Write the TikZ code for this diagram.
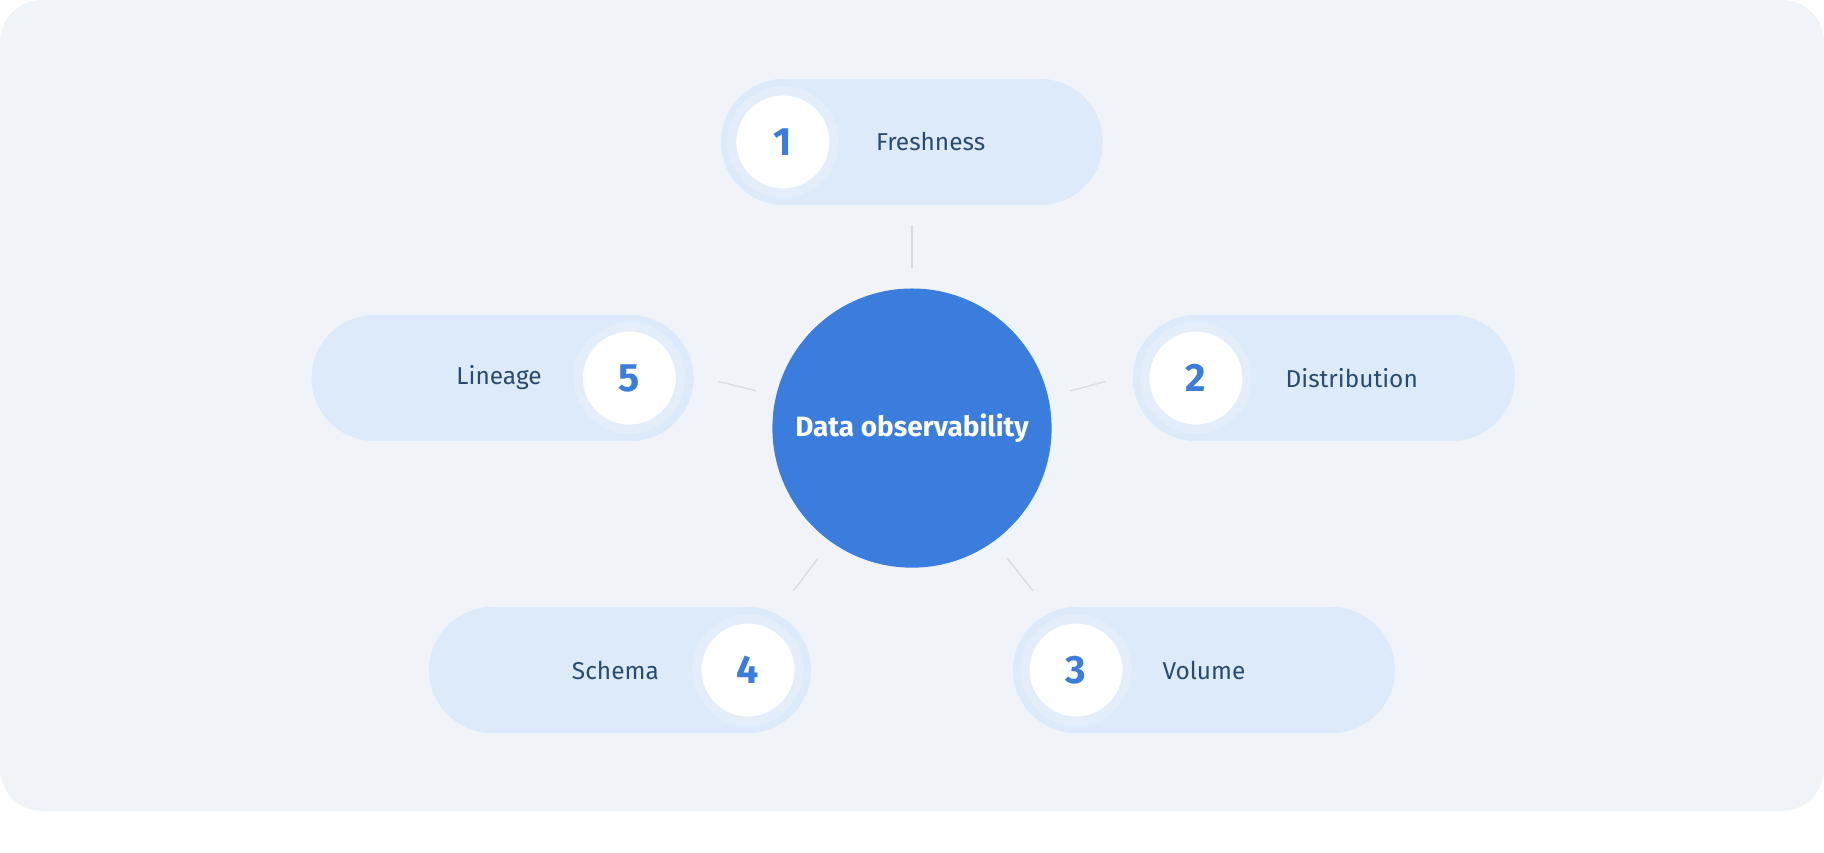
\documentclass[tikz,border=0pt]{standalone}
\usepackage{fontspec}
\setmainfont{Fira Sans}
\begin{document}
\begin{tikzpicture}[x=1pt,y=-1pt,
  pill/.style={draw=none,left color=#1,right color=#1,fill=pillc,rounded corners=54pt,minimum width=328pt,minimum height=108pt},
  pill/.default=pillc,
  num/.style={circle,fill=white,draw=ringc,line width=8pt,minimum size=88pt,inner sep=0pt,text=numc,font=\fontsize{34}{40}\selectfont\bfseries},
  lab/.style={text=labc,font=\fontsize{21}{25}\selectfont},
  conn/.style={draw=linec,line width=1pt}]
\definecolor{bgc}{HTML}{F0F4F8}
\definecolor{pillc}{HTML}{DCEAF9}
\definecolor{ringc}{HTML}{E4EEFA}
\definecolor{numc}{HTML}{3B7DDD}
\definecolor{labc}{HTML}{2A4A6E}
\definecolor{linec}{HTML}{D3DAE2}
\definecolor{hubc}{HTML}{3B7DDD}
\useasboundingbox (0,0) rectangle (1568,733);
\fill[white] (0,0) rectangle (1568,733);
\fill[bgc,rounded corners=36pt] (0,0) rectangle (1568,697);
% pills
\node[pill,fill=pillc] (p1) at (784,122) {};
\node[pill,fill=pillc] (p2) at (1138,325) {};
\node[pill,fill=pillc] (p3) at (1035,576) {};
\node[pill,fill=pillc] (p4) at (533,576) {};
\node[pill,fill=pillc] (p5) at (432,325) {};
\node[num] (n1) at (673,122) {1};
\node[num] (n2) at (1028,325) {2};
\node[num] (n3) at (925,576) {3};
\node[num] (n4) at (643,576) {4};
\node[num] (n5) at (541,325) {5};
\node[lab] (l1) at (800,122) {Freshness};
\node[lab] (l2) at (1162,325) {Distribution};
\node[lab] (l3) at (1035,576) {Volume};
\node[lab] (l4) at (529,576) {Schema};
\node[lab] (l5) at (429,325) {Lineage};
% hub
\node[circle,fill=hubc,minimum size=240pt,inner sep=0pt,text=white,font=\fontsize{24}{28}\selectfont\bfseries] (hub) at (784,368) {Data observability};
% connectors
\coordinate (a1) at (784,193); \coordinate (b1) at (784,230);
\coordinate (a2) at (950,328); \coordinate (b2) at (920,336);
\coordinate (a3) at (888,508); \coordinate (b3) at (866,480);
\coordinate (a4) at (682,508); \coordinate (b4) at (703,480);
\coordinate (a5) at (618,328); \coordinate (b5) at (650,336);
\foreach \i in {1,...,5}{\draw[conn] (a\i) -- (b\i);}
\end{tikzpicture}
\end{document}
